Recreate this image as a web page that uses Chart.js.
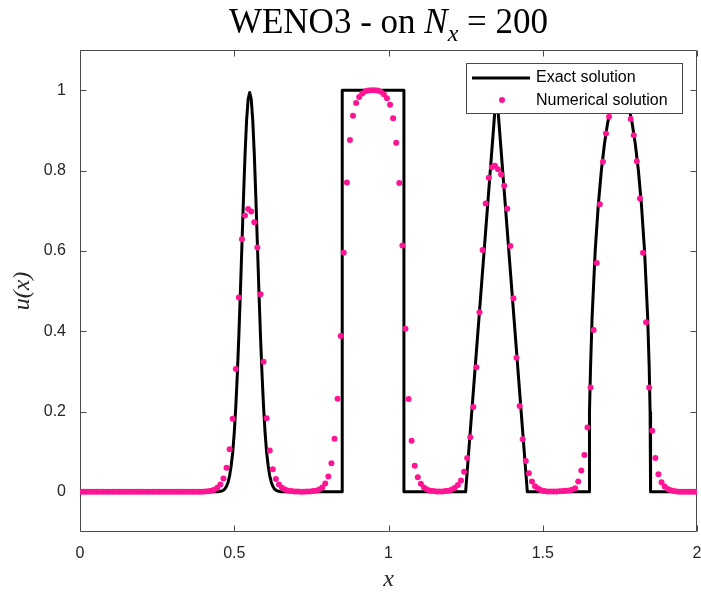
<!DOCTYPE html>
<html>
<head>
<meta charset="utf-8">
<script src="https://cdn.jsdelivr.net/npm/chart.js@4.4.1/dist/chart.umd.min.js"></script>
<style>
    html, body { margin: 0; padding: 0; background: #fff; }
    #wrap { position: relative; width: 701px; height: 594px; }
    #title {
        position: absolute; left: 80px; width: 617px; top: 2px;
        text-align: center; font-family: "Liberation Serif", serif;
        font-size: 35px; color: #000; white-space: nowrap;
    }
    #title sub { font-size: 24px; }
</style>
</head>
<body>
<div id="wrap">
    <div id="title">WENO3 - on <i>N<sub>x</sub></i> = 200</div>
    <canvas id="weno"></canvas>
</div>
<script>
// exact solution (Gaussian, square, triangle, ellipse)
const exactX = [0, 0.44, 0.45, 0.46, 0.465, 0.47, 0.475, 0.48, 0.485, 0.49, 0.495,
    0.50, 0.505, 0.51, 0.515, 0.52, 0.525, 0.53, 0.535, 0.54, 0.545, 0.55,
    0.555, 0.56, 0.565, 0.57, 0.575, 0.58, 0.585, 0.59, 0.595, 0.60, 0.605,
    0.61, 0.615, 0.62, 0.625, 0.63, 0.635, 0.64, 0.65, 0.66,
    0.85, 0.85, 1.05, 1.05,
    1.25, 1.35, 1.45,
    1.65, 1.651, 1.652, 1.655, 1.66, 1.67, 1.68, 1.69, 1.70, 1.71, 1.72, 1.73, 1.74,
    1.75, 1.76, 1.77, 1.78, 1.79, 1.80, 1.81, 1.82, 1.83, 1.84, 1.845, 1.848, 1.849, 1.85,
    2];
const exactY = [0, 0.0001, 0.0005, 0.002, 0.004, 0.0075, 0.014, 0.024, 0.04, 0.065, 0.098,
    0.147, 0.212, 0.293, 0.39, 0.5, 0.617, 0.733, 0.84, 0.925, 0.978, 0.994,
    0.978, 0.925, 0.84, 0.733, 0.617, 0.5, 0.39, 0.293, 0.212, 0.147, 0.098,
    0.065, 0.04, 0.024, 0.014, 0.0075, 0.004, 0.002, 0.0005, 0.0001,
    0, 1, 1, 0,
    0, 1, 0,
    0, 0.141, 0.199, 0.312, 0.436, 0.6, 0.714, 0.8, 0.866, 0.917, 0.954, 0.98, 0.995,
    1, 0.995, 0.98, 0.954, 0.917, 0.866, 0.8, 0.714, 0.6, 0.436, 0.312, 0.199, 0.141, 0,
    0];

// WENO3 values on the 200 cell centres
const nx = 200;
const numY = [
    0, 0, 0, 0, 0, 0, 0, 0, 0, 0,
    0, 0, 0, 0, 0, 0, 0, 0, 0, 0,
    0, 0, 0, 0, 0, 0, 0, 0, 0, 0,
    0, 0, 0, 0, 0, 0, 0, 0, 0, 0,
    0.001, 0.0015, 0.003, 0.005, 0.010, 0.018, 0.033, 0.060, 0.106, 0.182,
    0.306, 0.484, 0.629, 0.688, 0.704, 0.698, 0.671, 0.608, 0.492, 0.324,
    0.183, 0.103, 0.056, 0.032, 0.018, 0.010, 0.006, 0.003, 0.002, 0.001,
    0.0008, 0.0005, 0.0005, 0.0006, 0.001, 0.002, 0.003, 0.006, 0.011, 0.021,
    0.038, 0.071, 0.132, 0.232, 0.388, 0.595, 0.770, 0.876, 0.936, 0.968,
    0.983, 0.992, 0.997, 0.999, 1.000, 1.000, 0.999, 0.996, 0.990, 0.980,
    0.964, 0.930, 0.869, 0.769, 0.613, 0.406, 0.231, 0.127, 0.065, 0.036,
    0.020, 0.011, 0.006, 0.003, 0.002, 0.001, 0.001, 0.001, 0.002, 0.003,
    0.006, 0.010, 0.017, 0.028, 0.050, 0.084, 0.136, 0.211, 0.310, 0.447,
    0.602, 0.718, 0.782, 0.808, 0.812, 0.803, 0.790, 0.762, 0.705, 0.612,
    0.482, 0.334, 0.214, 0.131, 0.077, 0.046, 0.026, 0.014, 0.008, 0.004,
    0.002, 0.001, 0.0007, 0.0007, 0.001, 0.0015, 0.002, 0.0025, 0.0035, 0.005,
    0.009, 0.026, 0.053, 0.092, 0.160, 0.260, 0.403, 0.570, 0.716, 0.822,
    0.892, 0.934, 0.958, 0.972, 0.978, 0.975, 0.965, 0.950, 0.928, 0.888,
    0.823, 0.730, 0.595, 0.422, 0.260, 0.152, 0.084, 0.044, 0.024, 0.013,
    0.007, 0.004, 0.002, 0.001, 0.0005, 0, 0, 0, 0, 0
];

const xTicks = [0, 0.5, 1, 1.5, 2];
const yTicks = [0, 0.2, 0.4, 0.6, 0.8, 1];
const seriesNames = ['Exact solution', 'Numerical solution'];

const pink = '#ff1493';
const axisGrey = '#4a4a4a';

const exactPts = exactX.map((x, i) => ({ x: x, y: exactY[i] }));
const numPts = numY.map((y, i) => ({ x: (i + 0.5) * 2 / nx, y: y }));

// MATLAB style box with inward ticks
const boxPlugin = {
    id: 'box',
    beforeDatasetsDraw(chart) {
        const { ctx, chartArea: a, scales } = chart;
        const L = Math.round(a.left) + 0.5, R = Math.round(a.right) - 0.5;
        const T = Math.round(a.top) + 0.5, B = Math.round(a.bottom) - 0.5;
        ctx.save();
        ctx.strokeStyle = axisGrey;
        ctx.lineWidth = 1;
        ctx.beginPath();
        ctx.rect(L, T, R - L, B - T);
        xTicks.forEach(v => {
            const px = Math.round(scales.x.getPixelForValue(v)) + 0.5;
            ctx.moveTo(px, B); ctx.lineTo(px, B - 6);
            ctx.moveTo(px, T); ctx.lineTo(px, T + 6);
        });
        yTicks.forEach(v => {
            const py = Math.round(scales.y.getPixelForValue(v)) + 0.5;
            ctx.moveTo(L, py); ctx.lineTo(L + 6, py);
            ctx.moveTo(R, py); ctx.lineTo(R - 6, py);
        });
        ctx.stroke();
        ctx.restore();
    }
};

// legend box drawn on top of the data, upper right
const legendPlugin = {
    id: 'legendBox',
    afterDatasetsDraw(chart) {
        const ctx = chart.ctx;
        const x0 = 466, y0 = 63, w = 216, h = 50;
        ctx.save();
        ctx.fillStyle = '#fff';
        ctx.fillRect(x0, y0, w, h);
        ctx.strokeStyle = axisGrey;
        ctx.lineWidth = 1;
        ctx.strokeRect(x0 + 0.5, y0 + 0.5, w, h);
        ctx.strokeStyle = '#000';
        ctx.lineWidth = 3;
        ctx.beginPath();
        ctx.moveTo(x0 + 6, y0 + 15);
        ctx.lineTo(x0 + 64, y0 + 15);
        ctx.stroke();
        ctx.fillStyle = pink;
        ctx.beginPath();
        ctx.arc(x0 + 36, y0 + 37, 3, 0, Math.PI * 2);
        ctx.fill();
        ctx.fillStyle = '#000';
        ctx.font = '16px "Liberation Sans", Arial, sans-serif';
        ctx.textBaseline = 'middle';
        ctx.fillText(seriesNames[0], x0 + 70, y0 + 15);
        ctx.fillText(seriesNames[1], x0 + 70, y0 + 38);
        ctx.restore();
    }
};

const tickFont = { family: '"Liberation Sans", Arial, sans-serif', size: 16 };
const labelFont = { family: '"Liberation Serif", serif', size: 24, style: 'italic' };
const fmt = v => String(Number(v.toFixed(2)));

new Chart(document.getElementById('weno'), {
    type: 'scatter',
    data: {
        datasets: [
            {
                label: seriesNames[1],
                data: numPts,
                showLine: false,
                pointRadius: 3,
                pointBackgroundColor: pink,
                pointBorderWidth: 0,
                order: 1
            },
            {
                label: seriesNames[0],
                data: exactPts,
                showLine: true,
                borderColor: '#000',
                borderWidth: 3,
                borderJoinStyle: 'round',
                pointRadius: 0,
                tension: 0,
                order: 2
            }
        ]
    },
    options: {
        responsive: true,
        maintainAspectRatio: false,
        animation: false,
        devicePixelRatio: 1,
        layout: { padding: { top: 50, right: 4, left: 0, bottom: 0 } },
        plugins: { legend: { display: false }, tooltip: { enabled: false } },
        scales: {
            x: {
                type: 'linear',
                min: 0, max: 2,
                grid: { display: false },
                border: { display: false },
                afterBuildTicks: s => { s.ticks = xTicks.map(v => ({ value: v })); },
                afterFit: s => { s.height = 62; s.paddingLeft = 0; s.paddingRight = 0; },
                ticks: { font: tickFont, color: '#262626', padding: 4, maxRotation: 0, callback: fmt },
                title: { display: true, text: 'x', font: labelFont, color: '#262626', padding: { top: 0, bottom: 0 } }
            },
            y: {
                type: 'linear',
                min: -0.1, max: 1.1,
                grid: { display: false },
                border: { display: false },
                afterBuildTicks: s => { s.ticks = yTicks.map(v => ({ value: v })); },
                afterFit: s => { s.width = 80; s.paddingTop = 0; s.paddingBottom = 0; },
                ticks: { font: tickFont, color: '#262626', padding: 6, callback: fmt },
                title: { display: true, text: 'u(x)', font: labelFont, color: '#262626', padding: { top: 8, bottom: 0 } }
            }
        }
    },
    plugins: [boxPlugin, legendPlugin]
});
</script>
</body>
</html>
